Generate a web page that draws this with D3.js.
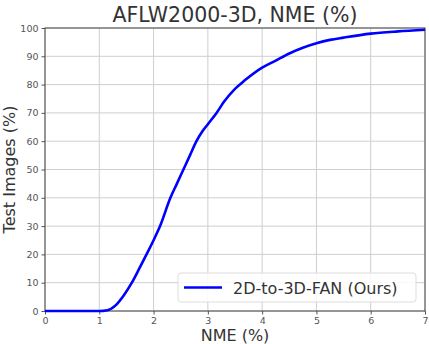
<!DOCTYPE html>
<html>
<head>
<meta charset="utf-8">
<script src="https://cdn.jsdelivr.net/npm/d3@7"></script>
<style>
  body { margin: 0; background: #fff; }
  svg { display: block; font-family: "DejaVu Sans", sans-serif; }
</style>
</head>
<body>
<svg id="chart" width="429" height="344"></svg>
<script>
// curve: NME (%) -> share of test images (%)
const nme = [0, 1.0, 1.15, 1.3, 1.45, 1.6, 1.75, 1.87, 2.0, 2.12, 2.31, 2.43, 2.55, 2.67, 2.79, 2.9, 3.0, 3.16, 3.3, 3.5, 3.68, 4.0, 4.25, 4.5, 4.75, 5.0, 5.25, 5.5, 6.0, 6.5, 7.0];
const share = [0, 0, 0.3, 2, 5.5, 10, 15.5, 20, 25, 30, 40, 45, 50, 55, 60, 63.5, 66, 70, 74, 78.5, 81.5, 86, 88.5, 91, 93, 94.6, 95.8, 96.6, 98, 98.8, 99.4];
const xTicks = [0, 1, 2, 3, 4, 5, 6, 7];
const yTicks = [0, 10, 20, 30, 40, 50, 60, 70, 80, 90, 100];
const seriesName = "2D-to-3D-FAN (Ours)";

const plotLeft = 45, plotRight = 425, plotTop = 28, plotBottom = 311;

const x = d3.scaleLinear().domain([0, 7]).range([plotLeft, plotRight]);
const y = d3.scaleLinear().domain([0, 100]).range([plotBottom, plotTop]);

const svg = d3.select('#chart');

// grid
const grid = svg.append('g');
grid.selectAll('.gx').data(xTicks).enter().append('line')
  .attr('x1', d => x(d)).attr('x2', d => x(d))
  .attr('y1', plotTop).attr('y2', plotBottom)
  .attr('stroke', '#cfcfcf').attr('stroke-width', 1);
grid.selectAll('.gy').data(yTicks).enter().append('line')
  .attr('x1', plotLeft).attr('x2', plotRight)
  .attr('y1', d => y(d)).attr('y2', d => y(d))
  .attr('stroke', '#cfcfcf').attr('stroke-width', 1);

// axes
const xAxis = svg.append('g')
  .attr('transform', `translate(0,${plotBottom})`)
  .call(d3.axisBottom(x).tickValues(xTicks).tickFormat(d3.format('d')).tickSize(3.5).tickPadding(3));
const yAxis = svg.append('g')
  .attr('transform', `translate(${plotLeft},0)`)
  .call(d3.axisLeft(y).tickValues(yTicks).tickFormat(d3.format('d')).tickSize(3.5).tickPadding(3));

[xAxis, yAxis].forEach(a => {
  a.select('.domain').remove();
  a.selectAll('line').attr('stroke', '#555');
  a.selectAll('text').attr('fill', '#555').attr('font-size', 9.5)
    .attr('font-family', '"DejaVu Sans", sans-serif');
});

// frame
svg.append('rect')
  .attr('x', plotLeft).attr('y', plotTop)
  .attr('width', plotRight - plotLeft).attr('height', plotBottom - plotTop)
  .attr('fill', 'none').attr('stroke', '#444').attr('stroke-width', 1);

// curve
const line = d3.line()
  .x((d, i) => x(nme[i]))
  .y((d, i) => y(share[i]))
  .curve(d3.curveMonotoneX);

svg.append('path')
  .datum(share)
  .attr('d', line)
  .attr('fill', 'none')
  .attr('stroke', '#0000ff')
  .attr('stroke-width', 2.6);

// legend
const lg = svg.append('g').attr('transform', 'translate(178,273)');
lg.append('rect')
  .attr('width', 238).attr('height', 29).attr('rx', 3)
  .attr('fill', '#fff').attr('fill-opacity', 0.85)
  .attr('stroke', '#ddd');
lg.append('line')
  .attr('x1', 6).attr('x2', 44).attr('y1', 14.5).attr('y2', 14.5)
  .attr('stroke', '#0000ff').attr('stroke-width', 2.6);
lg.append('text')
  .attr('x', 55).attr('y', 20.5)
  .attr('font-size', 16).attr('fill', '#333')
  .text(seriesName);

// titles
svg.append('text')
  .attr('x', (plotLeft + plotRight) / 2).attr('y', 22)
  .attr('text-anchor', 'middle')
  .attr('font-size', 20.5).attr('fill', '#333')
  .text('AFLW2000-3D, NME (%)');

svg.append('text')
  .attr('x', (plotLeft + plotRight) / 2).attr('y', 341)
  .attr('text-anchor', 'middle')
  .attr('font-size', 16).attr('fill', '#333')
  .text('NME (%)');

svg.append('text')
  .attr('transform', `translate(15,${(plotTop + plotBottom) / 2}) rotate(-90)`)
  .attr('text-anchor', 'middle')
  .attr('font-size', 16).attr('fill', '#333')
  .text('Test Images (%)');
</script>
</body>
</html>
